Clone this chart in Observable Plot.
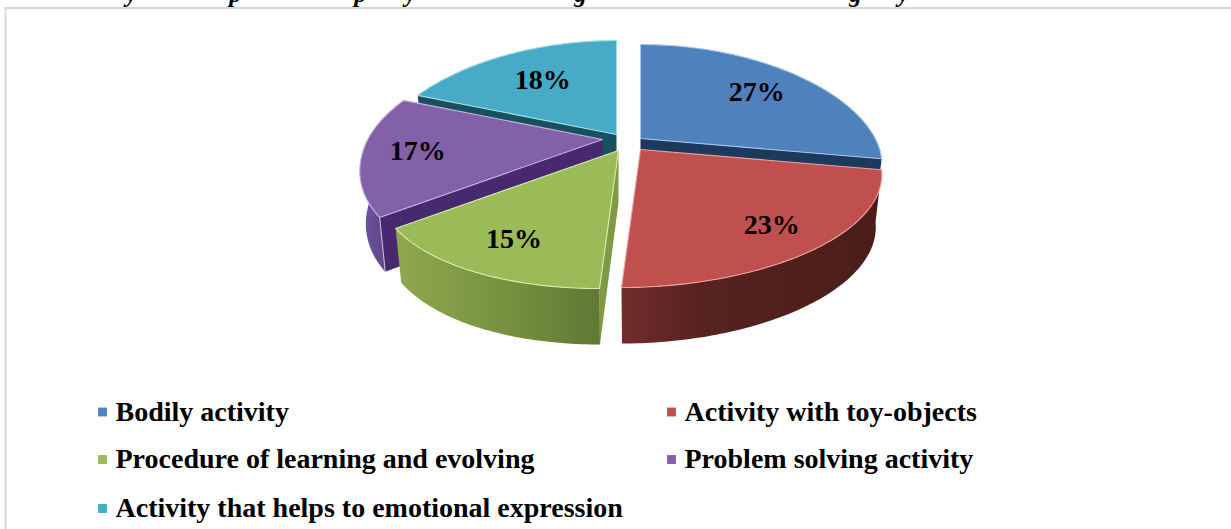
<!DOCTYPE html>
<html>
<head>
<meta charset="utf-8">
<style>
  html, body { margin: 0; padding: 0; background: #fff; }
  svg { display: block; }
</style>
<script src="https://cdn.jsdelivr.net/npm/d3@7"></script>
<script src="https://cdn.jsdelivr.net/npm/@observablehq/plot@0.6"></script>
</head>
<body>
<div id="chart"></div>
<script>
// Share of each activity type, in percent, clockwise from twelve o'clock.
const categories = [
  "Bodily activity",
  "Activity with toy-objects",
  "Procedure of learning and evolving",
  "Problem solving activity",
  "Activity that helps to emotional expression"
];
const shares = [27, 23, 15, 17, 18];

// Descenders of the heading that runs off the top edge of the page.
const headingGlyphs = ["y", "p", "p", "y", "g", "g", "y"];
const headingGlyphX = [131, 235, 360, 410, 580, 855, 903];

const W = 1231, H = 529;

// Styling and placement per slice, in the order of the categories.
const topColors = ["#4f81bd", "#c0504d", "#9bbb59", "#8261a8", "#47aac6"];
const rimColors = ["#a9c4e4", "#eda3a0", "#dcebb0", "#c8b4dc", "#a5dcea"];
const cutColors = ["#1b3a5e", "#5a2220", "#7f9a46", "#46296e", "#17505f"];
const hubs = [[640, 138], [640, 149], [618, 150], [602, 139], [616, 134]];
const labelRadii = [0.71, 0.78, 0.77, 0.77, 0.64];

// Tilted-disc projection: turns an angle and radius into page coordinates.
const radiusX = 237.5, radiusY = 111.8, perspective = 0.19, bow = 6, frontLean = 19;
const wallDepth = 52, wallDepthFront = 4, wallShrink = 0.975;

function place([hx, hy], angle, r, lower = false) {
  const u = Math.sin(angle) * r, v = -Math.cos(angle) * r;
  const w = 1 - perspective * v;
  let dx = radiusX * u / w - frontLean * Math.max(v, 0) ** 2;
  let dy = radiusY * v / w + bow * u * u;
  if (lower) {
    dx *= wallShrink;
    dy += wallDepth + wallDepthFront * v;
  }
  return {x: hx + dx, y: hy + dy};
}

function arc(hub, a0, a1, lower) {
  const n = Math.max(2, Math.ceil(Math.abs(a1 - a0) * 60));
  return d3.range(n + 1).map((i) => place(hub, a0 + (a1 - a0) * i / n, 1, lower));
}

const slices = d3.pie().sort(null).startAngle(0).endAngle(2 * Math.PI)(shares)
  .map((p, i) => ({
    a0: p.startAngle,
    a1: p.endAngle,
    share: p.data,
    hub: hubs[i],
    top: topColors[i],
    rim: rimColors[i],
    cut: cutColors[i],
    labelRadius: labelRadii[i]
  }));
const [blue, red, green, purple, teal] = slices;

const polygon = (points, options) => Plot.line(points, {x: "x", y: "y", curve: "linear-closed", ...options});

const face = (s) => polygon(
  [{x: s.hub[0], y: s.hub[1]}, ...arc(s.hub, s.a0, s.a1, false)],
  {fill: s.top, stroke: s.rim, strokeWidth: 1.1, strokeLinejoin: "round"}
);

// Flat wall along one cut edge of a slice.
const cutWall = (s, angle) => polygon(
  [
    {x: s.hub[0], y: s.hub[1]},
    place(s.hub, angle, 1, false),
    place(s.hub, angle, 1, true),
    place(s.hub, angle, 0, true)
  ],
  {fill: s.cut}
);

// Curved wall under the rim between two angles.
const rimWall = (s, a0, a1, fill) => polygon(
  [...arc(s.hub, a0, a1, false), ...arc(s.hub, a1, a0, true)],
  {fill}
);

// Light bevel running down the outer corner of a cut edge.
const cornerLine = (s, angle) => Plot.line(
  [place(s.hub, angle, 1, false), place(s.hub, angle, 1, true)],
  {x: "x", y: "y", stroke: s.rim, strokeWidth: 1.1}
);

const gradient = (id, stops) => () => {
  const defs = d3.create("svg:defs");
  const g = defs.append("linearGradient").attr("id", id);
  stops.forEach(([offset, color]) => g.append("stop").attr("offset", offset).attr("stop-color", color));
  return defs.node();
};

const legendRows = categories.map((name, i) => ({
  name,
  color: topColors[i],
  x: i % 2 === 0 ? 102 : 671,
  y: [411.5, 411.5, 459, 459, 508][i]
}));

const labels = slices.map((s) => ({
  ...place(s.hub, (s.a0 + s.a1) / 2, s.labelRadius),
  text: `${s.share}%`
}));

const serif = "'Liberation Serif', 'Times New Roman', serif";

const chart = Plot.plot({
  width: W,
  height: H,
  margin: 0,
  x: {domain: [0, W], range: [0, W], axis: null},
  y: {domain: [0, H], range: [0, H], axis: null},
  style: {background: "#fff"},
  marks: [
    gradient("wall-red", [[0, "#722c2b"], [0.3, "#572320"], [1, "#4a1d18"]]),
    gradient("wall-green", [[0, "#8fa94f"], [0.55, "#76913f"], [1, "#5f7834"]]),
    gradient("wall-purple", [[0, "#6f55a0"], [1, "#5f4689"]]),

    Plot.frame({stroke: "#d9d9d9", strokeWidth: 2, insetLeft: 5, insetTop: 7.5, insetRight: -10, insetBottom: -10}),

    Plot.text(headingGlyphs, {
      x: (d, i) => headingGlyphX[i],
      y: () => 1,
      text: (d) => d,
      fontFamily: serif, fontSize: 25, fontWeight: "bold", fontStyle: "italic",
      lineAnchor: "bottom", fill: "#000"
    }),

    // Slices, back to front.
    cutWall(teal, teal.a0),
    face(teal),
    cutWall(blue, blue.a1),
    face(blue),
    rimWall(purple, purple.a0, purple.a0 + (3 * Math.PI / 2 - purple.a0) * 1.3, "url(#wall-purple)"),
    cutWall(purple, purple.a0),
    cornerLine(purple, purple.a0),
    face(purple),
    cutWall(green, green.a0),
    rimWall(green, green.a0, green.a1, "url(#wall-green)"),
    face(green),
    rimWall(red, red.a0, red.a1, "url(#wall-red)"),
    face(red),

    Plot.text(labels, {
      x: "x", y: "y", text: "text",
      fontFamily: serif, fontSize: 28, fontWeight: "bold", fill: "#000"
    }),

    // Legend.
    Plot.dot(legendRows, {x: "x", y: "y", symbol: "square", r: 5, fill: "color"}),
    Plot.text(legendRows, {
      x: (d) => d.x + 13, y: "y", text: "name", textAnchor: "start",
      fontFamily: serif, fontSize: 28, fontWeight: "bold", fill: "#000"
    })
  ]
});

document.getElementById("chart").appendChild(chart);
</script>
</body>
</html>
